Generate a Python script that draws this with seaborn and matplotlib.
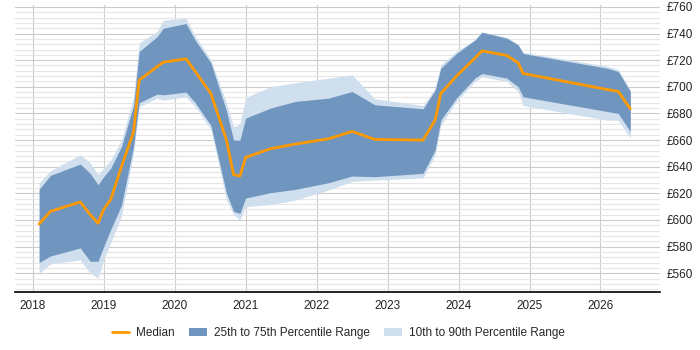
import pandas as pd
import seaborn as sns
import matplotlib.pyplot as plt
from matplotlib.ticker import MultipleLocator, FuncFormatter
from matplotlib.patches import Patch
from matplotlib.lines import Line2D

# Data (decimal year, £)
years = [2018.09, 2018.25, 2018.67, 2018.81, 2018.92, 2019.0, 2019.1, 2019.25, 2019.42, 2019.5,
         2019.75, 2019.84, 2020.16, 2020.29, 2020.51, 2020.73, 2020.83, 2020.92, 2021.0, 2021.35,
         2021.7, 2022.17, 2022.5, 2022.82, 2023.5, 2023.67, 2023.75, 2023.97, 2024.23, 2024.33,
         2024.68, 2024.84, 2024.91, 2026.09, 2026.25, 2026.42]
median = [597, 606.5, 613.5, 604, 597.5, 608, 615.5, 640, 666, 705,
          715, 718.5, 721, 711.5, 695, 660, 634, 633, 647, 653.5,
          657, 661, 666.5, 660.5, 660, 675, 695, 708, 721.5, 727,
          723.5, 718, 710, 698, 696.5, 683.5]
p75 = [623, 633.5, 642, 635, 626.5, 632.5, 639, 655, 686, 726.5,
       737.5, 744, 747.5, 735, 718, 682, 660, 660, 676.5, 684,
       689, 691.5, 696.5, 686.5, 683.5, 697.5, 714, 725, 735, 741,
       736.5, 731.5, 725, 714, 711.5, 696.5]
p90 = [628, 637, 649, 643, 634, 639, 645, 660, 692, 733,
       741.5, 750, 751.5, 738, 720.5, 688, 670, 672, 692, 700,
       703, 706.5, 709, 691, 686, 699, 716.5, 726.5, 735.5, 741,
       737, 732, 726, 715.5, 713, 698]
p25 = [568, 573, 579, 569, 569, 580, 593, 611, 655, 688,
       694.5, 694, 696, 688, 671, 620, 606.5, 605, 616.5, 620.5,
       623, 628, 633, 632.5, 635, 652.5, 675, 691.5, 706.5, 710,
       706.5, 700, 692.5, 681.5, 680, 666.5]
p10 = [560, 567, 570, 560, 556.5, 570, 583, 603, 650, 685,
       691.5, 690, 692.5, 685, 668, 615, 604, 600, 610, 611.5,
       615, 622.5, 629, 630, 631.5, 649, 671, 689, 704, 707.5,
       704, 696.5, 686, 675, 675, 661.5]
year_ticks = [2018, 2019, 2020, 2021, 2022, 2023, 2024, 2025, 2026]

df = pd.DataFrame({'year': years, 'median': median, 'p10': p10, 'p25': p25, 'p75': p75, 'p90': p90})

sns.set_style('white')
plt.rcParams['font.family'] = ['Liberation Sans', 'DejaVu Sans']

fig = plt.figure(figsize=(7, 3.5), dpi=100)
ax = fig.add_axes([0.0214, 0.166, 0.9216, 0.82])

light = '#cfdfee'
dark = '#7096bf'
orange = '#ff9900'

ax.fill_between(df['year'], df['p10'], df['p90'], color=light, linewidth=0, zorder=2)
ax.fill_between(df['year'], df['p25'], df['p75'], color=dark, linewidth=0, zorder=3)
sns.lineplot(data=df, x='year', y='median', color=orange, linewidth=2, ax=ax, zorder=4)

ax.set_xlim(2017.75, 2026.84)
ax.set_ylim(546, 761.5)
ax.set_xticks(year_ticks)
ax.set_xticklabels([str(y) for y in year_ticks])
ax.yaxis.set_major_locator(MultipleLocator(20))
ax.yaxis.set_minor_locator(MultipleLocator(4))
ax.yaxis.set_major_formatter(FuncFormatter(lambda v, p: f'£{v:.0f}'))
ax.yaxis.tick_right()
ax.set_xlabel('')
ax.set_ylabel('')

ax.grid(which='major', axis='both', color='#cccccc', linewidth=0.8, zorder=0)
ax.grid(which='minor', axis='y', color='#e6e6e6', linewidth=0.8, zorder=0)
ax.set_axisbelow(True)
for side in ['top', 'left', 'right']:
    ax.spines[side].set_visible(False)
ax.spines['bottom'].set_color('black')
ax.spines['bottom'].set_linewidth(1.2)
ax.tick_params(axis='both', which='both', length=0, labelsize=8.5, colors='#222222')
ax.tick_params(axis='y', pad=5)
ax.tick_params(axis='x', pad=6)

handles = [Line2D([0], [0], color=orange, linewidth=2),
           Patch(facecolor=dark, edgecolor='none'),
           Patch(facecolor=light, edgecolor='none')]
labels = ['Median', '25th to 75th Percentile Range', '10th to 90th Percentile Range']
fig.legend(handles, labels, loc='center', bbox_to_anchor=(0.483, 0.048), ncol=3, frameon=False,
           fontsize=8.5, handlelength=1.5, handletextpad=0.6, columnspacing=1.2)

fig.savefig('out.png', dpi=100)
